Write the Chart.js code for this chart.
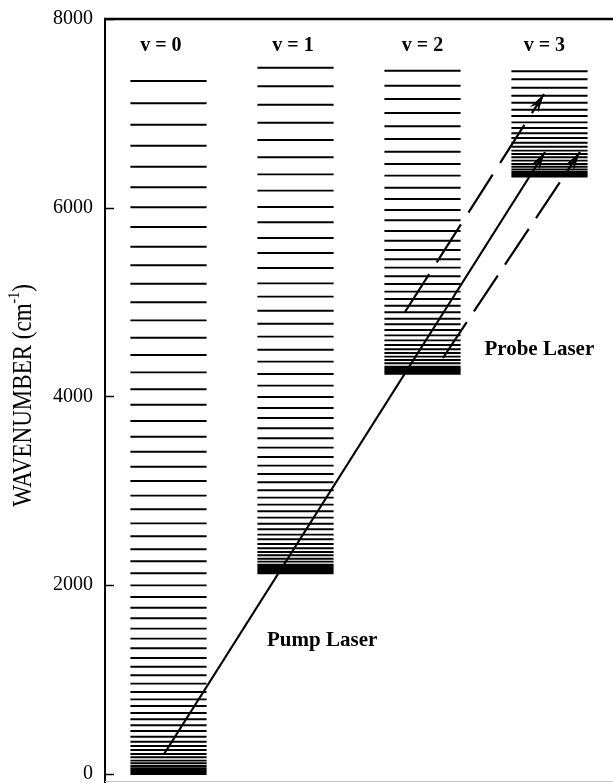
<!DOCTYPE html>
<html>
<head>
<meta charset="utf-8">
<script src="https://cdn.jsdelivr.net/npm/chart.js@4/dist/chart.umd.min.js"></script>
<style>
    html, body { margin: 0; padding: 0; background: #fff; }
    #wrap { position: relative; width: 613px; height: 783px; }
</style>
</head>
<body>
<div id="wrap"><canvas id="chartLevels"></canvas></div>
<script>
// Rovibrational levels (cm-1), one list per vibrational state
const levelsV0 = [0, 7, 20, 35, 48, 60, 85, 113, 141, 177, 212, 254, 297, 342, 395, 456, 516, 580, 646, 721,
    791, 869, 957, 1046, 1137, 1229, 1332, 1434, 1540, 1650, 1762, 1876, 1999, 2127, 2254, 2381, 2519, 2656,
    2805, 2949, 3105, 3256, 3415, 3574, 3740, 3913, 4076, 4256, 4440, 4623, 4807, 4998, 5195, 5390, 5587,
    5796, 6005, 6217, 6435, 6657, 6880, 7107, 7343];
const levelsV1 = [2127, 2131, 2138, 2149, 2164, 2182, 2200, 2217, 2250, 2281, 2317, 2352, 2392, 2437, 2487,
    2536, 2593, 2652, 2716, 2784, 2854, 2928, 3006, 3091, 3179, 3267, 3359, 3458, 3557, 3663, 3772, 3878,
    3995, 4115, 4238, 4369, 4496, 4634, 4771, 4909, 5058, 5199, 5362, 5520, 5679, 5846, 6008, 6181, 6354,
    6535, 6718, 6901, 7092, 7287, 7484];
const levelsV2 = [4240, 4244, 4251, 4262, 4277, 4296, 4316, 4352, 4387, 4422, 4461, 4500, 4546, 4595, 4648,
    4705, 4765, 4824, 4892, 4962, 5033, 5111, 5192, 5274, 5365, 5454, 5552, 5651, 5754, 5867, 5976, 6093,
    6212, 6340, 6464, 6594, 6728, 6863, 7004, 7152, 7293, 7452];
const levelsV3 = [6330, 6334, 6341, 6352, 6366, 6382, 6407, 6435, 6464, 6499, 6535, 6570, 6605, 6647, 6689,
    6739, 6789, 6845, 6905, 6972, 7039, 7113, 7187, 7272, 7361, 7446];

const bandNames = ['v = 0', 'v = 1', 'v = 2', 'v = 3'];
const bandLabelX = [-0.06, 0.98, 2.0, 2.96];
const bandLabelY = 7714;
const yTicks = [0, 2000, 4000, 6000, 8000];

// laser transitions (x in column units, y in cm-1)
const pumpLaser = [{x: -0.035, y: 212}, {x: 2.965, y: 6591}];
const probeUpper = [{x: 1.862, y: 4895}, {x: 2.957, y: 7205}];
const probeLower = [{x: 2.161, y: 4408}, {x: 3.240, y: 6591}];

const noteTexts = ['Pump Laser', 'Probe Laser'];
const noteX = [1.21, 2.92];
const noteY = [1409, 4493];

const SERIF = '"Liberation Serif", "Times New Roman", serif';
const HALF = 0.3;

// each level is a short segment, null breaks the line between levels
function levelPoints(levels, v) {
    const pts = [];
    levels.forEach(e => {
        pts.push({x: v - HALF, y: e}, {x: v + HALF, y: e}, {x: v, y: null});
    });
    return pts;
}

const levelSets = [levelsV0, levelsV1, levelsV2, levelsV3].map((lv, v) => ({
    data: levelPoints(lv, v),
    borderColor: '#000',
    borderWidth: 1.9,
    pointRadius: 0,
    spanGaps: false
}));

const arrowSets = [
    {data: pumpLaser, borderColor: '#000', borderWidth: 2.2, pointRadius: 0, arrow: true},
    {data: probeUpper, borderColor: '#000', borderWidth: 2.2, pointRadius: 0, borderDash: [45, 14], arrow: true},
    {data: probeLower, borderColor: '#000', borderWidth: 2.2, pointRadius: 0, borderDash: [43, 13], arrow: true}
];

function arrowHead(ctx, p0, p1) {
    const ang = Math.atan2(p1.y - p0.y, p1.x - p0.x);
    ctx.save();
    ctx.translate(p1.x, p1.y);
    ctx.rotate(ang);
    ctx.beginPath();
    ctx.moveTo(0, 0);
    ctx.lineTo(-19, -5);
    ctx.lineTo(-12, 0);
    ctx.lineTo(-19, 5);
    ctx.closePath();
    ctx.fill();
    ctx.restore();
}

const decor = {
    id: 'decor',
    afterDraw(chart) {
        const {ctx, chartArea: a, scales: {x, y}} = chart;
        ctx.save();
        ctx.fillStyle = '#000';
        ctx.strokeStyle = '#000';

        // top frame and faint bottom edge
        ctx.lineWidth = 2.5;
        ctx.beginPath();
        ctx.moveTo(a.left - 1, a.top);
        ctx.lineTo(a.right, a.top);
        ctx.stroke();
        ctx.lineWidth = 1;
        ctx.strokeStyle = '#c8c8c8';
        ctx.beginPath();
        ctx.moveTo(a.left, a.bottom - 0.5);
        ctx.lineTo(a.right, a.bottom - 0.5);
        ctx.stroke();

        // inward ticks
        ctx.strokeStyle = '#000';
        ctx.lineWidth = 1.5;
        yTicks.forEach(t => {
            const py = Math.round(y.getPixelForValue(t)) + 0.5;
            ctx.beginPath();
            ctx.moveTo(a.left, py);
            ctx.lineTo(a.left + 9, py);
            ctx.stroke();
        });

        // arrow heads
        chart.data.datasets.forEach((ds, i) => {
            if (!ds.arrow) return;
            const pts = chart.getDatasetMeta(i).data;
            arrowHead(ctx, pts[pts.length - 2], pts[pts.length - 1]);
        });

        // band labels
        ctx.textAlign = 'center';
        ctx.textBaseline = 'middle';
        ctx.font = 'bold 20px ' + SERIF;
        bandNames.forEach((n, v) => {
            ctx.fillText(n, x.getPixelForValue(bandLabelX[v]), y.getPixelForValue(bandLabelY));
        });
        ctx.font = 'bold 21px ' + SERIF;
        noteTexts.forEach((t, i) => {
            ctx.fillText(t, x.getPixelForValue(noteX[i]), y.getPixelForValue(noteY[i]));
        });

        // axis title with superscript
        ctx.translate(24, (a.top + a.bottom) / 2 - 5);
        ctx.rotate(-Math.PI / 2);
        ctx.scale(1, 1.15);
        ctx.textAlign = 'left';
        ctx.textBaseline = 'middle';
        const main = 'WAVENUMBER (cm';
        ctx.font = '23px ' + SERIF;
        const wMain = ctx.measureText(main).width;
        ctx.font = '14px ' + SERIF;
        const wSup = ctx.measureText('-1').width;
        ctx.font = '23px ' + SERIF;
        const wEnd = ctx.measureText(')').width;
        let sx = -(wMain + wSup + wEnd) / 2;
        ctx.fillText(main, sx, 0);
        sx += wMain;
        ctx.font = '14px ' + SERIF;
        ctx.fillText('-1', sx, -8);
        sx += wSup;
        ctx.font = '23px ' + SERIF;
        ctx.fillText(')', sx, 0);
        ctx.restore();
    }
};

new Chart(document.getElementById('chartLevels').getContext('2d'), {
    type: 'line',
    data: {datasets: levelSets.concat(arrowSets)},
    options: {
        responsive: true,
        maintainAspectRatio: false,
        animation: false,
        events: [],
        layout: {padding: {top: 19, right: 0, bottom: 1, left: 0}},
        plugins: {legend: {display: false}, tooltip: {enabled: false}},
        scales: {
            x: {type: 'linear', display: false, min: -0.5, max: 3.5},
            y: {
                type: 'linear',
                min: -85,
                max: 8000,
                afterFit: s => {
                    s.width = 105;
                    s.paddingTop = 0;
                    s.paddingBottom = 0;
                },
                afterBuildTicks: s => { s.ticks = yTicks.map(v => ({value: v})); },
                grid: {display: false, drawTicks: false},
                border: {display: true, color: '#000', width: 2},
                ticks: {
                    color: '#000',
                    padding: 12,
                    font: {family: SERIF, size: 20},
                    callback: v => String(v)
                }
            }
        }
    },
    plugins: [decor]
});
</script>
</body>
</html>
